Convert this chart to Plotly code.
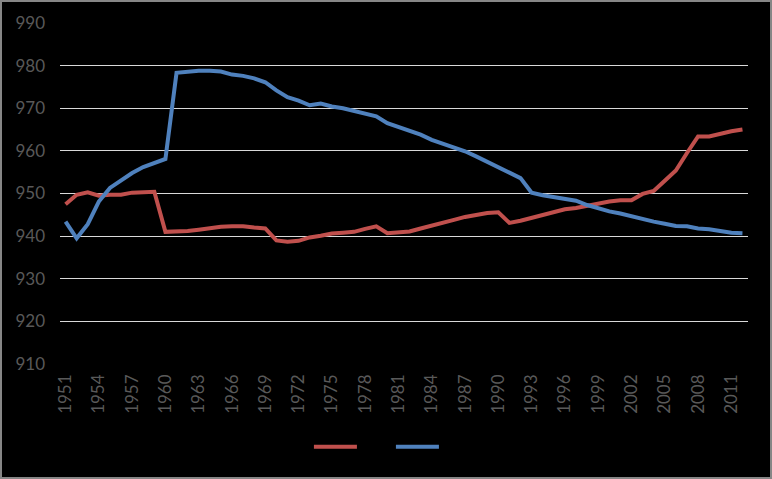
import plotly.graph_objects as go

years = list(range(1951, 2013))

red_values = [
    947.5, 949.7, 950.3, 949.5, 949.7, 949.7, 950.2, 950.4, 950.4, 941.0,
    941.0, 941.2, 941.5, 941.9, 942.2, 942.3, 942.3, 942.0, 941.8, 939.0,
    938.7, 938.9, 939.7, 940.1, 940.6, 940.8, 941.0, 941.7, 942.3, 940.7,
    940.8, 941.1, 941.8, 942.4, 943.2, 943.8, 944.5, 945.0, 945.4, 945.6,
    943.1, 943.6, 944.3, 944.8, 945.6, 946.3, 946.6, 947.1, 947.7, 948.1,
    948.4, 948.4, 949.9, 950.6, 953.0, 955.4, 959.5, 963.4, 963.4, 964.1,
    964.6, 965.0,
]

blue_values = [
    943.4, 939.5, 942.8, 948.1, 951.3, 953.1, 954.8, 956.2, 957.1, 958.1,
    978.3, 978.6, 978.8, 978.8, 978.6, 977.9, 977.6, 977.0, 976.1, 974.2,
    972.6, 971.8, 970.7, 971.1, 970.4, 970.0, 969.4, 968.8, 968.1, 966.5,
    965.6, 964.8, 963.8, 962.6, 961.7, 961.0, 959.9, 958.7, 957.5, 956.1,
    954.9, 953.6, 950.2, 949.6, 949.2, 948.6, 948.3, 947.3, 946.5, 945.8,
    945.3, 944.6, 944.1, 943.4, 942.9, 942.4, 942.3, 941.8, 941.6, 941.1,
    940.8, 940.7,
]

RED = '#C0504D'
BLUE = '#4F81BD'
TEXT = '#595959'

W, H = 772, 479
left, right, top, bottom = 60, 24, 23, 115

fig = go.Figure()
fig.add_trace(go.Scatter(x=years, y=red_values, mode='lines', name='',
                         line=dict(color=RED, width=4)))
fig.add_trace(go.Scatter(x=years, y=blue_values, mode='lines', name='',
                         line=dict(color=BLUE, width=4)))

pw = W - left - right
ph = H - top - bottom

# grey frame round the whole chart area, as in the spreadsheet export
fig.add_shape(type='rect', xref='paper', yref='paper',
              x0=-(left - 1) / pw, x1=1 + (right - 1) / pw,
              y0=-(bottom - 1) / ph, y1=1 + (top - 1) / ph,
              line=dict(color='#868686', width=2), layer='below')

fig.update_layout(
    width=W, height=H,
    margin=dict(l=left, r=right, t=top, b=bottom),
    paper_bgcolor='black', plot_bgcolor='black',
    font=dict(family='Lato, Liberation Sans, sans-serif', size=17, color=TEXT),
    showlegend=True,
    legend=dict(orientation='h', x=0.481, xanchor='center', y=-0.243, yanchor='middle',
                bgcolor='rgba(0,0,0,0)', itemwidth=43, entrywidth=24,
                entrywidthmode='pixels', font=dict(size=2)),
)
fig.update_xaxes(range=[1950.5, 2012.5], tick0=1951, dtick=3, tickangle=-90,
                 showgrid=False, zeroline=False, showline=False, ticks='',
                 ticklabelstandoff=6, tickfont=dict(color=TEXT, size=17))
fig.update_yaxes(range=[910, 990], dtick=10, showgrid=True, gridcolor='#D9D9D9',
                 gridwidth=1, zeroline=False, showline=False, ticks='',
                 ticklabelstandoff=14, tickfont=dict(color=TEXT, size=17))

fig.write_html('out.html', config={'displayModeBar': False},
               post_script="document.body.style.margin = '0';")
